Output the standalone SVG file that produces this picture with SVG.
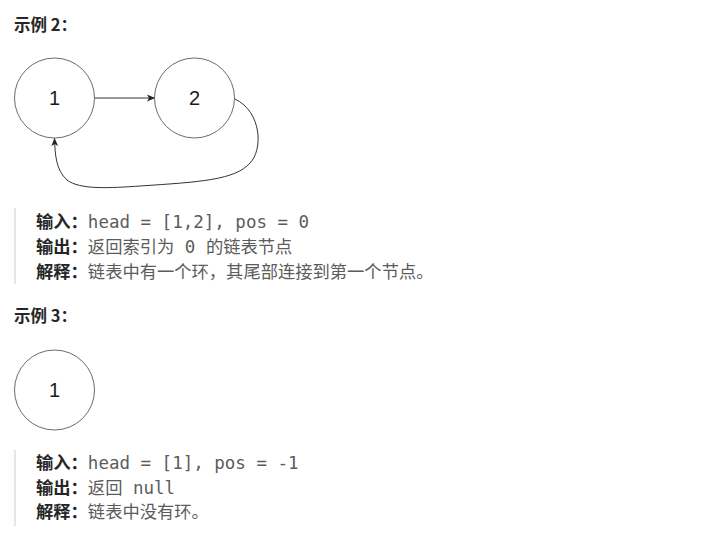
<svg xmlns="http://www.w3.org/2000/svg" width="728" height="552" viewBox="0 0 728 552">
<style>
.node circle{fill:#fff;stroke:#6b6b6b;stroke-width:1}
.num{font-family:"Liberation Sans",Arial,sans-serif;font-size:20px;fill:#1a1a1a;text-anchor:middle}
.edge{fill:none;stroke:#333;stroke-width:1}
.title{font-family:"Noto Sans CJK SC","Noto Sans",sans-serif;font-size:16.5px;font-weight:bold;fill:#262626}
.lbl{font-family:"Noto Sans CJK SC","Noto Sans",sans-serif;font-size:17.3px;font-weight:bold;fill:#262626}
.txt{font-family:"Noto Sans CJK SC","Noto Sans",sans-serif;font-size:17.3px;fill:#5c5c5c}
.mono{font-family:"DejaVu Sans Mono","Liberation Mono",monospace;font-size:17.5px;fill:#5c5c5c}
.bar{fill:#e6e6e6}
</style>
<defs>
<marker id="arr" viewBox="0 0 8 8" refX="8" refY="4" markerWidth="8" markerHeight="8" markerUnits="userSpaceOnUse" orient="auto">
<path d="M0,0.6 L8,4 L0,7.4 L2,4 Z" fill="#222"/>
</marker>
</defs>
<rect width="728" height="552" fill="#fff"/>

<text class="title" x="14" y="31">示例 2：</text>

<g id="connectors">
<path class="edge" d="M95,98 L155,98" marker-end="url(#arr)"/>
<path class="edge" d="M235,99 C262,112 263,150 250,163 C235,180 200,182 140,186 C110,188 80,190 67,180 C56,170 55,155 54.5,138" marker-end="url(#arr)"/>
</g>

<g id="node-ex2-1" class="node">
<circle cx="54.5" cy="98" r="40"/>
<text class="num" x="54.5" y="105">1</text>
</g>
<g id="node-ex2-2" class="node">
<circle cx="194.5" cy="98" r="40"/>
<text class="num" x="194.5" y="105">2</text>
</g>

<g id="block-ex2">
<rect class="bar" x="14" y="208" width="2" height="76"/>
<text x="36" y="228"><tspan class="lbl">输入：</tspan><tspan class="mono">head = [1,2], pos = 0</tspan></text>
<text x="36" y="253"><tspan class="lbl">输出：</tspan><tspan class="txt">返回索引为</tspan><tspan class="mono" xml:space="preserve"> 0 </tspan><tspan class="txt">的链表节点</tspan></text>
<text x="36" y="278"><tspan class="lbl">解释：</tspan><tspan class="txt">链表中有一个环，其尾部连接到第一个节点。</tspan></text>
</g>

<text class="title" x="14" y="322">示例 3：</text>

<g id="node-ex3-1" class="node">
<circle cx="54.5" cy="390" r="40"/>
<text class="num" x="54.5" y="397">1</text>
</g>

<g id="block-ex3">
<rect class="bar" x="14" y="450" width="2" height="76"/>
<text x="36" y="469"><tspan class="lbl">输入：</tspan><tspan class="mono">head = [1], pos = -1</tspan></text>
<text x="36" y="494"><tspan class="lbl">输出：</tspan><tspan class="txt">返回</tspan><tspan class="mono" xml:space="preserve"> null</tspan></text>
<text x="36" y="518"><tspan class="lbl">解释：</tspan><tspan class="txt">链表中没有环。</tspan></text>
</g>
</svg>
